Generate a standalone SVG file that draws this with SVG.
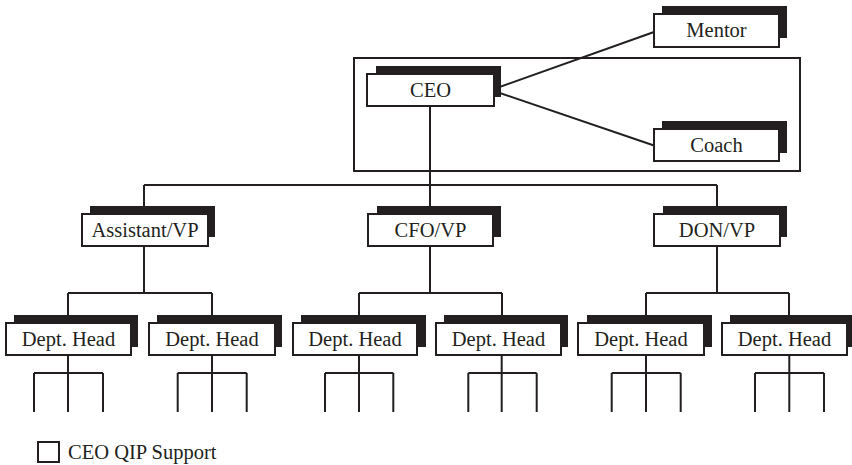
<svg xmlns="http://www.w3.org/2000/svg" width="852" height="465" viewBox="0 0 852 465">
<style>
.bg{fill:#ffffff}
.sh{fill:#231f20}
.bx{fill:#ffffff;stroke:#231f20;stroke-width:2}
.t{font-family:"Liberation Serif","Times New Roman",serif;font-size:20.5px;fill:#231f20;text-anchor:middle}
.lg{font-family:"Liberation Serif","Times New Roman",serif;font-size:20.5px;fill:#231f20}
.ln{fill:none;stroke:#231f20;stroke-width:2}
.fr{fill:none;stroke:#231f20;stroke-width:2}
</style>
<rect class="bg" x="0" y="0" width="852" height="465"/>
<rect id="ceo-qip-frame" class="fr" x="354" y="58" width="446" height="113"/>
<g id="connectors">
<line class="ln" x1="494" y1="89" x2="654" y2="32"/>
<line class="ln" x1="494" y1="91" x2="654" y2="145.5"/>
<path class="ln" d="M430 106V185M144 185H717M144 185V214M430 185V214M717 185V214"/>
<path class="ln" d="M144 246V293M430 246V293M717 246V293"/>
<path class="ln" d="M68 293H212M68 293V323M212 293V323M359 293H502M359 293V323M502 293V323M646 293H789M646 293V323M789 293V323"/>
<path class="ln" d="M68 355V373M34 373H103M34 373V412M68 373V412M103 373V412"/>
<path class="ln" d="M212 355V373M177.7 373H246.7M177.7 373V412M212 373V412M246.7 373V412"/>
<path class="ln" d="M359 355V373M325 373H393.3M325 373V412M359 373V412M393.3 373V412"/>
<path class="ln" d="M501.7 355V373M468.3 373H536.7M468.3 373V412M501.7 373V412M536.7 373V412"/>
<path class="ln" d="M646 355V373M611.7 373H680.7M611.7 373V412M646 373V412M680.7 373V412"/>
<path class="ln" d="M789.3 355V373M755 373H824M755 373V412M789.3 373V412M824 373V412"/>
</g>
<g id="mentor">
<rect class="sh" x="662" y="6" width="125" height="32"/>
<rect class="bx" x="654" y="14" width="125" height="33"/>
<text class="t" x="716.5" y="37">Mentor</text>
</g>
<g id="ceo">
<rect class="sh" x="376" y="66" width="125" height="31"/>
<rect class="bx" x="367" y="74" width="127" height="32"/>
<text class="t" x="430.5" y="97">CEO</text>
</g>
<g id="coach">
<rect class="sh" x="662" y="121" width="125" height="32"/>
<rect class="bx" x="654" y="129" width="125" height="32"/>
<text class="t" x="716.5" y="152">Coach</text>
</g>
<g id="assistant-vp">
<rect class="sh" x="90" y="206" width="125" height="31"/>
<rect class="bx" x="82" y="214" width="126" height="32"/>
<text class="t" x="145" y="237">Assistant/VP</text>
</g>
<g id="cfo-vp">
<rect class="sh" x="377" y="206" width="124" height="31"/>
<rect class="bx" x="368" y="214" width="125" height="32"/>
<text class="t" x="430.5" y="237">CFO/VP</text>
</g>
<g id="don-vp">
<rect class="sh" x="663" y="206" width="124" height="31"/>
<rect class="bx" x="654" y="214" width="126" height="32"/>
<text class="t" x="717" y="237">DON/VP</text>
</g>
<g id="dept-head-1">
<rect class="sh" x="14" y="315" width="124" height="32"/>
<rect class="bx" x="6" y="323" width="125" height="32"/>
<text class="t" x="68.5" y="346">Dept. Head</text>
</g>
<g id="dept-head-2">
<rect class="sh" x="157" y="315" width="125" height="32"/>
<rect class="bx" x="149" y="323" width="126" height="32"/>
<text class="t" x="212" y="346">Dept. Head</text>
</g>
<g id="dept-head-3">
<rect class="sh" x="301" y="315" width="125" height="32"/>
<rect class="bx" x="293" y="323" width="124" height="32"/>
<text class="t" x="355" y="346">Dept. Head</text>
</g>
<g id="dept-head-4">
<rect class="sh" x="444" y="315" width="124" height="32"/>
<rect class="bx" x="436" y="323" width="125" height="32"/>
<text class="t" x="498.5" y="346">Dept. Head</text>
</g>
<g id="dept-head-5">
<rect class="sh" x="587" y="315" width="125" height="32"/>
<rect class="bx" x="578" y="323" width="126" height="32"/>
<text class="t" x="641" y="346">Dept. Head</text>
</g>
<g id="dept-head-6">
<rect class="sh" x="730" y="315" width="125" height="32"/>
<rect class="bx" x="722" y="323" width="125" height="32"/>
<text class="t" x="784.5" y="346">Dept. Head</text>
</g>
<g id="legend">
<rect class="bx" x="38" y="442" width="21" height="20"/>
<text class="lg" x="68" y="459">CEO QIP Support</text>
</g>
</svg>
